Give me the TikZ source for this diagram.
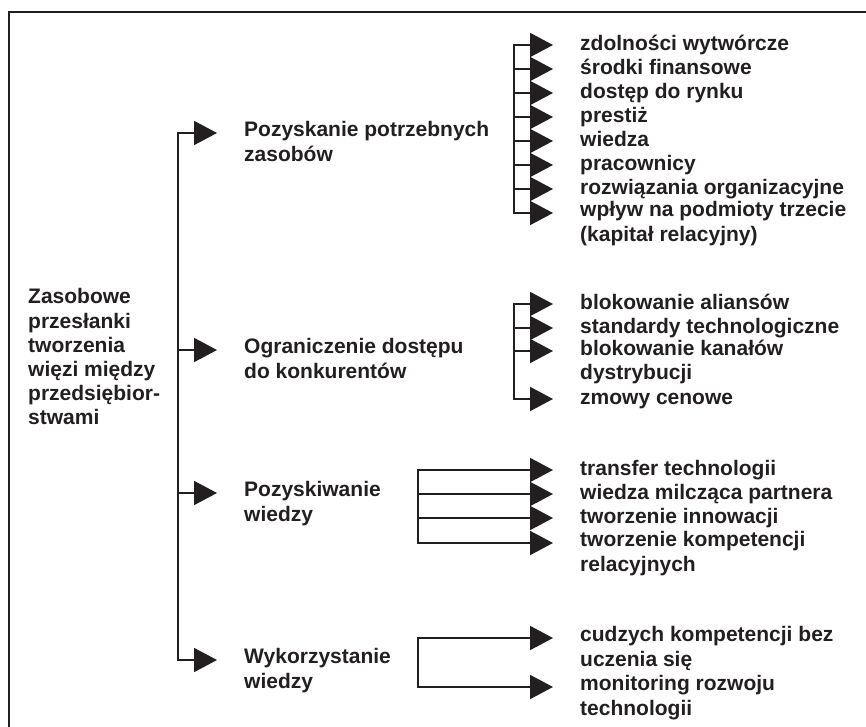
\documentclass[tikz,border=0pt]{standalone}
\usepackage{fontspec}
\setmainfont{Liberation Sans}
\usetikzlibrary{arrows.meta}
\definecolor{ink}{HTML}{231F20}

\begin{document}
\begin{tikzpicture}[x=1pt,y=-1pt,
    every node/.style={font=\bfseries\fontsize{21}{24.2}\selectfont, text=ink,
      inner sep=0pt, anchor=north west, yshift=11.5pt, align=left,
      execute at begin node=\strut},
    fl/.style={transform canvas={yshift=-11.5pt}},
    ln/.style={fl, draw=ink, line width=1.8pt, line cap=rect},
    arr/.style={fl, draw=ink, line width=1.8pt, shorten >=27pt,
      -{Triangle[length=23pt,width=24pt]}}]
  \useasboundingbox (0,0) rectangle (866,727);
  % frame
  \draw[ink, line width=2.2pt] (870,12) -- (9,12) -- (9,730);

  % root
  \node (root) at (28,300) {Zasobowe\\przesłanki\\tworzenia\\więzi między\\przedsiębior-\\stwami};

  % branches
  \node (p1) at (244,133) {Pozyskanie potrzebnych\\zasobów};
  \node (p2) at (244,350) {Ograniczenie dostępu\\do konkurentów};
  \node (p3) at (244,493) {Pozyskiwanie\\wiedzy};
  \node (p4) at (244,660) {Wykorzystanie\\wiedzy};
  \coordinate (tr) at (178,0);
  \draw[ln] (tr |- p1.north west) -- (tr |- p4.north west);
  \draw[arr] (tr |- p1.north west) -- (p1.north west);
  \draw[arr] (tr |- p2.north west) -- (p2.north west);
  \draw[arr] (tr |- p3.north west) -- (p3.north west);
  \draw[arr] (tr |- p4.north west) -- (p4.north west);

  % zasoby
  \node (a1) at (580,45) {zdolności wytwórcze};
  \node (a2) at (580,69) {środki finansowe};
  \node (a3) at (580,93) {dostęp do rynku};
  \node (a4) at (580,117) {prestiż};
  \node (a5) at (580,141) {wiedza};
  \node (a6) at (580,165) {pracownicy};
  \node (a7) at (580,189) {rozwiązania organizacyjne};
  \node (a8) at (580,213) {wpływ na podmioty trzecie\\(kapitał relacyjny)};
  \coordinate (ga) at (514,0);
  \draw[ln] (ga |- a1.north west) -- (ga |- a8.north west);
  \draw[arr] (ga |- a1.north west) -- (a1.north west);
  \draw[arr] (ga |- a2.north west) -- (a2.north west);
  \draw[arr] (ga |- a3.north west) -- (a3.north west);
  \draw[arr] (ga |- a4.north west) -- (a4.north west);
  \draw[arr] (ga |- a5.north west) -- (a5.north west);
  \draw[arr] (ga |- a6.north west) -- (a6.north west);
  \draw[arr] (ga |- a7.north west) -- (a7.north west);
  \draw[arr] (ga |- a8.north west) -- (a8.north west);

  % konkurenci
  \node (b1) at (580,304) {blokowanie aliansów};
  \node (b2) at (580,328) {standardy technologiczne};
  \node (b3) at (580,351) {blokowanie kanałów\\dystrybucji};
  \node (b4) at (580,399) {zmowy cenowe};
  \coordinate (gb) at (514,0);
  \draw[ln] (gb |- b1.north west) -- (gb |- b4.north west);
  \draw[arr] (gb |- b1.north west) -- (b1.north west);
  \draw[arr] (gb |- b2.north west) -- (b2.north west);
  \draw[arr] (gb |- b3.north west) -- (b3.north west);
  \draw[arr] (gb |- b4.north west) -- (b4.north west);

  % pozyskiwanie wiedzy
  \node (c1) at (580,470) {transfer technologii};
  \node (c2) at (580,494) {wiedza milcząca partnera};
  \node (c3) at (580,518) {tworzenie innowacji};
  \node (c4) at (580,543) {tworzenie kompetencji\\relacyjnych};
  \coordinate (gc) at (418,0);
  \draw[ln] (gc |- c1.north west) -- (gc |- c4.north west);
  \draw[arr] (gc |- c1.north west) -- (c1.north west);
  \draw[arr] (gc |- c2.north west) -- (c2.north west);
  \draw[arr] (gc |- c3.north west) -- (c3.north west);
  \draw[arr] (gc |- c4.north west) -- (c4.north west);

  % wykorzystanie wiedzy
  \node (d1) at (580,638) {cudzych kompetencji bez\\uczenia się};
  \node (d2) at (580,687) {monitoring rozwoju\\technologii};
  \coordinate (gd) at (418,0);
  \draw[ln] (gd |- d1.north west) -- (gd |- d2.north west);
  \draw[arr] (gd |- d1.north west) -- (d1.north west);
  \draw[arr] (gd |- d2.north west) -- (d2.north west);
\end{tikzpicture}
\end{document}
